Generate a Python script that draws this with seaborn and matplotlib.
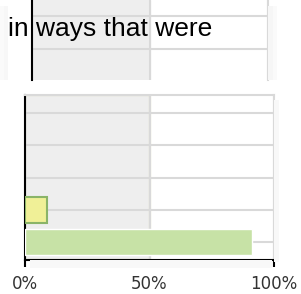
import matplotlib
matplotlib.use('Agg')
import matplotlib.pyplot as plt
from matplotlib.patches import Rectangle
import seaborn as sns
import pandas as pd

# data
rows = ['a', 'b', 'c', 'd', 'e']
bar_rows = ['d', 'e']
bar_pct = [9, 91]
bar_fill = ['#ffff88', '#c8ec9c']
bar_edge = ['#b8b850', '#8ab468']
tick_pct = [0, 50, 100]
tick_labels = ['0%', '50%', '100%']
caption = 'in ways that were'

sns.set_style('white')
W, H = 301, 294
fig = plt.figure(figsize=(W / 100, H / 100), dpi=100)


def px_axes(x0, y0, x1, y1):
    return fig.add_axes([x0 / W, 1 - y1 / H, (x1 - x0) / W, (y1 - y0) / H])


def px_shade(x0, y0, x1, y1, c):
    fig.patches.append(Rectangle((x0 / W, 1 - y1 / H), (x1 - x0) / W, (y1 - y0) / H,
                                 transform=fig.transFigure, color=c, lw=0, zorder=0))


grid_c = '#d9d9d9'
band_c = '#eeeeee'

# faint drop shadows around the panels
px_shade(268, 6, 273, 80, '#f6f6f6')
px_shade(273, 6, 277, 80, '#fafafa')
px_shade(0, 6, 4, 80, '#fafafa')
px_shade(4, 6, 8, 80, '#f7f7f7')
px_shade(274, 100, 279, 262, '#f8f8f8')
px_shade(30, 260, 272, 268, '#f8f8f8')

# top panel (cropped)
ax1 = px_axes(32, 0, 268, 80)
ax1.axvspan(0, 50, color=band_c, zorder=0)
ax1.set_xlim(0, 100)
ax1.set_ylim(1.94, -0.49)
ax1.set_yticks([0, 1])
ax1.set_xticks([50, 100])
ax1.grid(True, color=grid_c, linewidth=1.5)
ax1.tick_params(length=0, labelbottom=False, labelleft=False)
for s in ['top', 'bottom']:
    ax1.spines[s].set_visible(False)
ax1.spines['right'].set_color(grid_c)
ax1.spines['right'].set_linewidth(1.5)
ax1.spines['left'].set_color('black')
ax1.spines['left'].set_linewidth(1.5)
ax1.set_axisbelow(True)

fig.text(8 / W, 1 - 36 / H, caption, fontsize=19, family='Liberation Sans',
         va='baseline', ha='left', color='black')

# bottom panel
ax2 = px_axes(25, 95, 274, 260)
ax2.axvspan(0, 50, color=band_c, zorder=0)
df = pd.DataFrame({'row': bar_rows, 'pct': bar_pct})
sns.barplot(data=df, x='pct', y='row', hue='row', order=rows,
            palette=bar_fill, width=0.8, legend=False, ax=ax2, zorder=3)
for p, ec in zip(ax2.patches, bar_edge):
    p.set_edgecolor(ec)
    p.set_linewidth(1.5)
ax2.set_xlim(0, 100)
ax2.set_ylim(4.56, -0.56)
ax2.set_xticks(tick_pct)
ax2.set_xticklabels(tick_labels)
ax2.set_xlabel('')
ax2.set_ylabel('')
ax2.grid(True, color=grid_c, linewidth=1.5)
ax2.set_axisbelow(True)
ax2.tick_params(axis='y', length=0, labelleft=False)
ax2.tick_params(axis='x', direction='out', length=5, width=1.5, color='black',
                pad=6, labelsize=12, labelcolor='#333333', bottom=True)
for s in ['top', 'right']:
    ax2.spines[s].set_color(grid_c)
    ax2.spines[s].set_linewidth(1.5)
for s in ['left', 'bottom']:
    ax2.spines[s].set_color('black')
    ax2.spines[s].set_linewidth(1.5)

fig.savefig('out.png', dpi=100)
